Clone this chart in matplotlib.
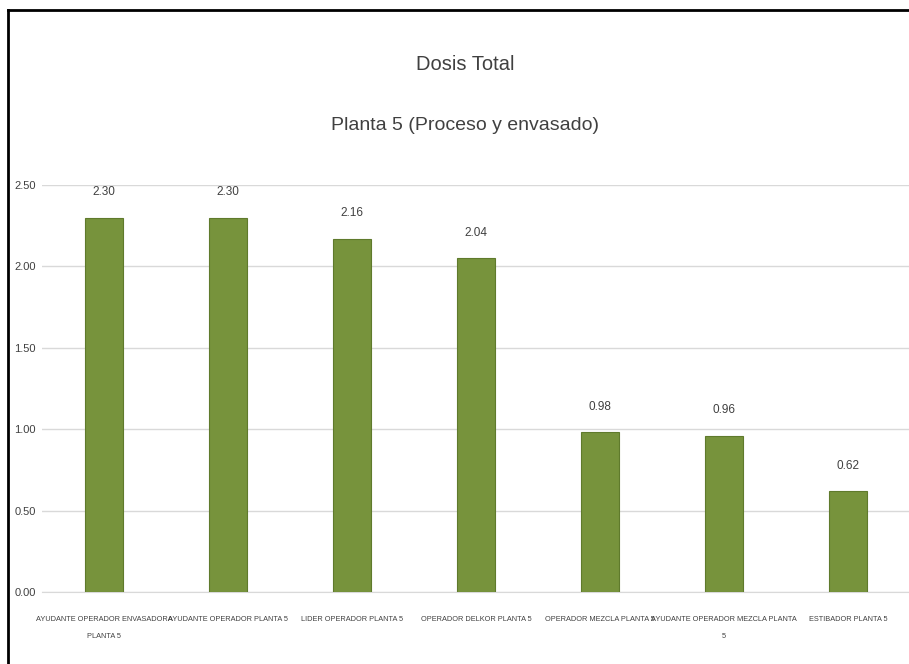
import matplotlib.pyplot as plt
import numpy as np
from matplotlib.lines import Line2D

categories = ['AYUDANTE OPERADOR ENVASADORA\nPLANTA 5', 'AYUDANTE OPERADOR PLANTA 5',
              'LIDER OPERADOR PLANTA 5', 'OPERADOR DELKOR PLANTA 5',
              'OPERADOR MEZCLA PLANTA 5', 'AYUDANTE OPERADOR MEZCLA PLANTA\n5',
              'ESTIBADOR PLANTA 5']
values = [2.30, 2.30, 2.17, 2.05, 0.98, 0.96, 0.62]
labels = ['2.30', '2.30', '2.16', '2.04', '0.98', '0.96', '0.62']
yticks = [0.0, 0.5, 1.0, 1.5, 2.0, 2.5]

plt.rcParams['font.family'] = ['Liberation Sans', 'DejaVu Sans']

W, H = 909, 664
fig = plt.figure(figsize=(W / 100, H / 100), dpi=100)
ax = fig.add_axes([42 / W, 1 - 592 / H, (910 - 42) / W, (592 - 185) / H])

x = np.arange(len(values))
ax.bar(x, values, width=0.31, color='#77933c', edgecolor='#5f7a2c', linewidth=0.8, zorder=3)
for xi, v, lab in zip(x, values, labels):
    ax.text(xi, v + 0.12, lab, ha='center', va='bottom', fontsize=8.5, color='#404040')

ax.set_xlim(-0.5, len(values) - 0.5)
ax.set_ylim(0, 2.5)
ax.set_yticks(yticks)
ax.set_yticklabels(['%.2f' % t for t in yticks], fontsize=8, color='#404040', ha='left')
ax.set_xticks(x)
ax.set_xticklabels(categories, fontsize=5.3, color='#404040', linespacing=3.0)
ax.tick_params(axis='both', length=0)
ax.tick_params(axis='x', pad=17)
ax.tick_params(axis='y', pad=20)
ax.grid(axis='y', color='#d9d9d9', linewidth=1, zorder=0)
for s in ['top', 'right', 'left']:
    ax.spines[s].set_visible(False)
ax.spines['bottom'].set_color('#d9d9d9')

fig.text(465 / W, 1 - 65 / H, 'Dosis Total', ha='center', va='center', fontsize=14.5, color='#404040')
fig.text(465 / W, 1 - 125 / H, 'Planta 5 (Proceso y envasado)', ha='center', va='center',
         fontsize=14, color='#404040')

# black frame
fig.add_artist(Line2D([8 / W, 8 / W], [0, 1 - 10 / H], color='black', linewidth=2, transform=fig.transFigure))
fig.add_artist(Line2D([8 / W, 1], [1 - 10 / H, 1 - 10 / H], color='black', linewidth=2, transform=fig.transFigure))

fig.savefig('out.png', dpi=100)
